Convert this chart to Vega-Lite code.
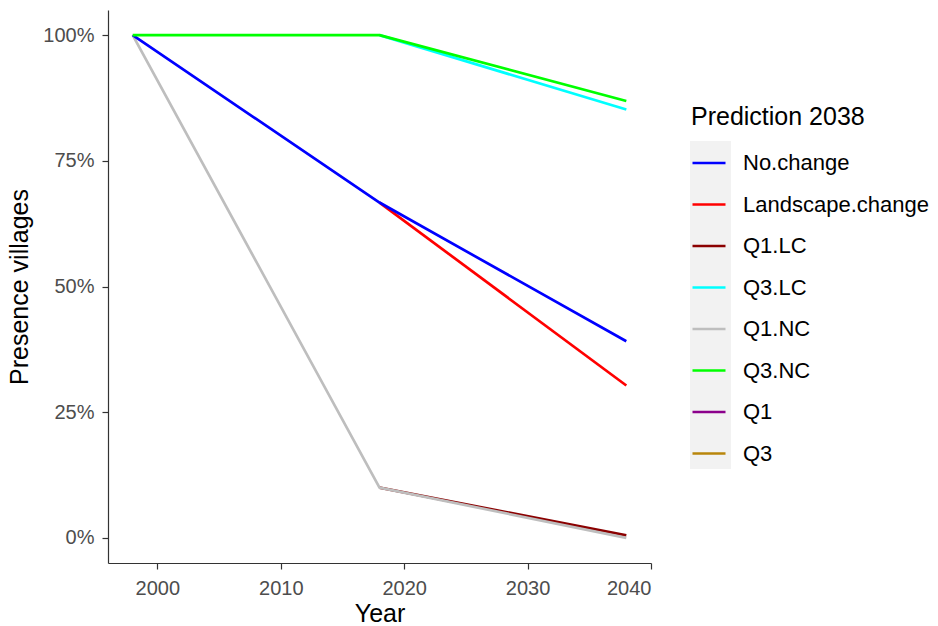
{
  "$schema": "https://vega.github.io/schema/vega-lite/v6.json",
  "width": 543,
  "height": 553,
  "autosize": {"type": "none"},
  "padding": {"left": 108, "top": 10, "right": 287, "bottom": 63},
  "background": "white",
  "config": {
    "view": {"stroke": null},
    "font": "Liberation Sans"
  },
  "data": {
    "values": [
      {"series": "Q1.LC", "year": 2018, "value": 0.10},
      {"series": "Q1.LC", "year": 2038, "value": 0.005},
      {"series": "Q3.LC", "year": 2018, "value": 1.0},
      {"series": "Q3.LC", "year": 2038, "value": 0.852},
      {"series": "Landscape.change", "year": 2018, "value": 0.667},
      {"series": "Landscape.change", "year": 2038, "value": 0.303},
      {"series": "Q1.NC", "year": 1998, "value": 1.0},
      {"series": "Q1.NC", "year": 2018, "value": 0.10},
      {"series": "Q1.NC", "year": 2038, "value": 0.0},
      {"series": "No.change", "year": 1998, "value": 1.0},
      {"series": "No.change", "year": 2018, "value": 0.667},
      {"series": "No.change", "year": 2038, "value": 0.391},
      {"series": "Q3.NC", "year": 1998, "value": 1.0},
      {"series": "Q3.NC", "year": 2018, "value": 1.0},
      {"series": "Q3.NC", "year": 2038, "value": 0.869}
    ]
  },
  "mark": {"type": "line", "strokeWidth": 2.7, "strokeCap": "butt", "strokeJoin": "round"},
  "encoding": {
    "x": {
      "field": "year",
      "type": "quantitative",
      "scale": {"domain": [1996, 2040], "nice": false, "zero": false},
      "axis": {
        "title": "Year",
        "values": [2000, 2010, 2020, 2030, 2040],
        "format": "d",
        "grid": false,
        "domainColor": "#333333",
        "domainWidth": 1.2,
        "tickColor": "#333333",
        "tickSize": 6,
        "tickWidth": 1.2,
        "labelColor": "#4D4D4D",
        "labelFontSize": 20,
        "labelPadding": 9,
        "titleFontSize": 25,
        "titleFontWeight": "normal",
        "titleColor": "#000000",
        "titlePadding": 3
      }
    },
    "y": {
      "field": "value",
      "type": "quantitative",
      "scale": {"domain": [-0.05, 1.05], "nice": false, "zero": false},
      "axis": {
        "title": "Presence villages",
        "values": [0, 0.25, 0.5, 0.75, 1.0],
        "format": ".0%",
        "grid": false,
        "domainColor": "#333333",
        "domainWidth": 1.2,
        "tickColor": "#333333",
        "tickSize": 6,
        "tickWidth": 1.2,
        "labelColor": "#4D4D4D",
        "labelFontSize": 20,
        "labelPadding": 8,
        "titleFontSize": 25,
        "titleFontWeight": "normal",
        "titleColor": "#000000",
        "titlePadding": 10
      }
    },
    "color": {
      "field": "series",
      "type": "nominal",
      "scale": {
        "domain": ["No.change", "Landscape.change", "Q1.LC", "Q3.LC", "Q1.NC", "Q3.NC", "Q1", "Q3"],
        "range": ["#0000FF", "#FF0000", "#8B0000", "#00FFFF", "#BEBEBE", "#00FF00", "#8B008B", "#B8860B"]
      },
      "legend": {
        "title": "Prediction 2038",
        "orient": "none",
        "legendX": 583,
        "legendY": 95,
        "zindex": 2,
        "titleFontSize": 25,
        "titleFontWeight": "normal",
        "titleColor": "#000000",
        "titlePadding": 15,
        "symbolType": "stroke",
        "symbolSize": 1089,
        "symbolStrokeWidth": 2.7,
        "labelFontSize": 22,
        "labelColor": "#000000",
        "labelOffset": 16,
        "labelLimit": 400,
        "rowPadding": 12.5,
        "padding": 0
      }
    },
    "opacity": {
      "field": "series",
      "type": "nominal",
      "scale": {
        "domain": ["Q3", "Q1", "Q3.NC", "Q1.NC", "Q3.LC", "Q1.LC", "Landscape.change", "No.change"],
        "range": [1, 1]
      },
      "legend": {
        "title": null,
        "orient": "none",
        "legendX": 582,
        "legendY": 131,
        "zindex": 1,
        "symbolType": "square",
        "symbolSize": 1681,
        "symbolFillColor": "#F2F2F2",
        "symbolStrokeColor": "#F2F2F2",
        "symbolStrokeWidth": 0,
        "labelExpr": "''",
        "labelOffset": 0,
        "labelFontSize": 1,
        "rowPadding": 0,
        "padding": 0,
        "fillColor": "#F2F2F2"
      }
    }
  }
}
